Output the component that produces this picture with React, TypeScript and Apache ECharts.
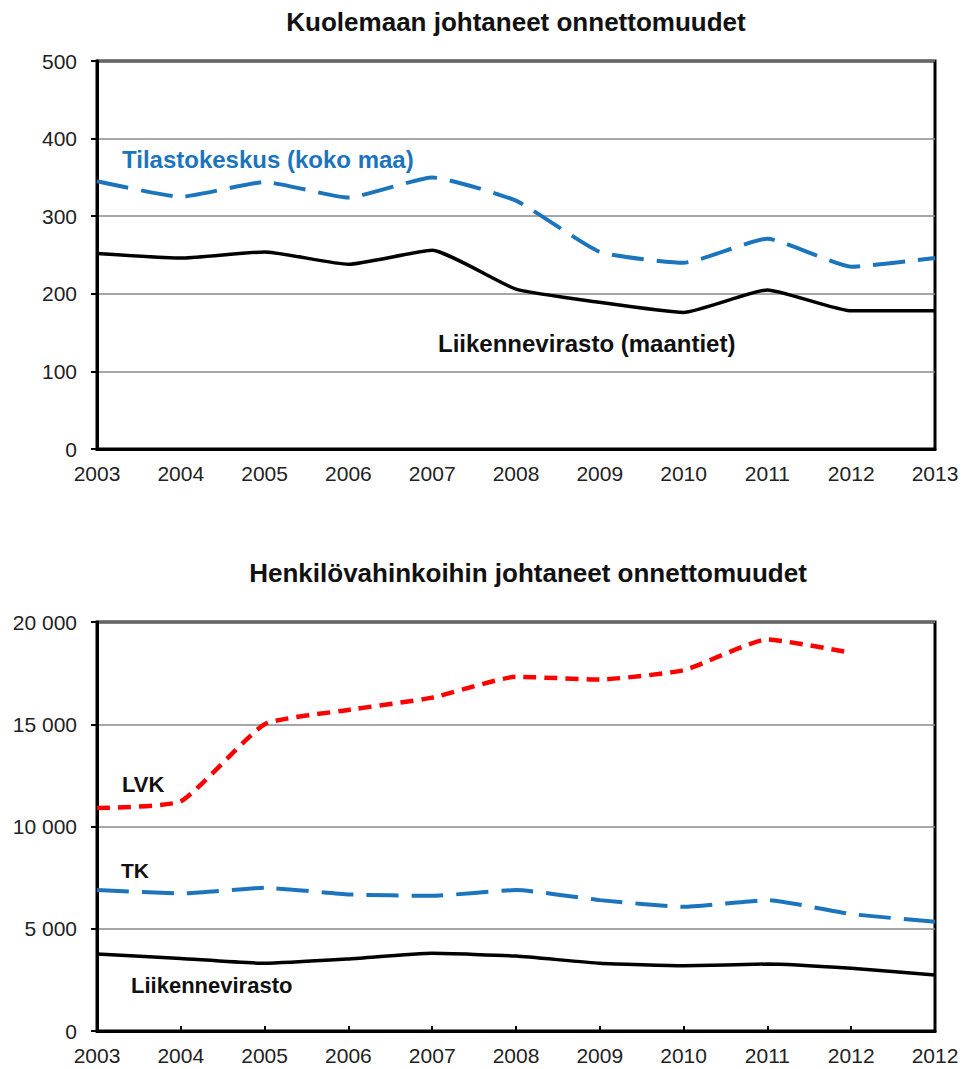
import React, { useEffect, useRef } from "react";
import * as echarts from "echarts";

// ---- Data ----
const years1 = ["2003", "2004", "2005", "2006", "2007", "2008", "2009", "2010", "2011", "2012", "2013"];
const tilastokeskus1 = [345, 325, 344, 324, 350, 320, 254, 240, 271, 235, 246];
const liikennevirasto1 = [252, 246, 254, 238, 256, 206, 189, 176, 205, 178, 178];

const years2 = ["2003", "2004", "2005", "2006", "2007", "2008", "2009", "2010", "2011", "2012", "2012"];
const lvk2 = [10900, 11230, 15000, 15700, 16300, 17320, 17190, 17640, 19150, 18490, null];
const tk2 = [6890, 6730, 7000, 6680, 6610, 6890, 6400, 6075, 6400, 5720, 5340];
const liikennevirasto2 = [3760, 3550, 3310, 3520, 3800, 3665, 3310, 3190, 3275, 3065, 2740];

const title1 = "Kuolemaan johtaneet onnettomuudet";
const title2 = "Henkilövahinkoihin johtaneet onnettomuudet";

const FONT = "'Liberation Sans', Arial, Helvetica, sans-serif";
const BLUE = "#1c75bc";
const RED = "#ff0000";

function fmtThousands(v: number) {
  return String(v).replace(/\B(?=(\d{3})+(?!\d))/g, " ");
}

function text(x: number, y: number, t: string, size: number, color: string, align: string) {
  return {
    type: "text",
    x,
    y,
    silent: true,
    style: {
      text: t,
      fill: color,
      fontSize: size,
      fontWeight: "bold",
      fontFamily: FONT,
      align,
      textAlign: align,
      verticalAlign: "middle",
      textVerticalAlign: "middle",
    },
  };
}

export default function App() {
  const ref = useRef<HTMLDivElement>(null);
  useEffect(() => {
    document.body.style.margin = "0";
    const chart = echarts.init(ref.current!, null, { renderer: "svg" });
    const xAxisBase = (gridIndex: number, data: string[], ticks: boolean) => ({
      gridIndex,
      type: "category",
      data,
      boundaryGap: false,
      axisLine: { show: true, lineStyle: { color: "#000", width: 3 } },
      axisTick: ticks
        ? { show: true, inside: true, length: 5, interval: 0, lineStyle: { color: "#000", width: 2 } }
        : { show: false },
      axisLabel: { interval: 0, fontSize: 21, color: "#222", margin: 14, fontFamily: FONT },
      splitLine: { show: false },
    });
    const yAxisBase = (gridIndex: number, max: number, interval: number, fmt?: (v: number) => string) => ({
      gridIndex,
      type: "value",
      min: 0,
      max,
      interval,
      axisLine: { show: true, lineStyle: { color: "#000", width: 3 } },
      axisTick: { show: true, length: 6, lineStyle: { color: "#000", width: 2 } },
      axisLabel: { fontSize: 21, color: "#222", margin: 20, fontFamily: FONT, formatter: fmt },
      splitLine: { show: true, lineStyle: { color: "#888", width: 1.5 } },
    });
    const option: any = {
      animation: false,
      backgroundColor: "#fff",
      grid: [
        { left: 97, top: 61, width: 838, height: 388, show: true, borderColor: "#000", borderWidth: 3 },
        { left: 97, top: 622, width: 838, height: 409, show: true, borderColor: "#000", borderWidth: 3 },
      ],
      xAxis: [xAxisBase(0, years1, false), xAxisBase(1, years2, true)],
      yAxis: [
        yAxisBase(0, 500, 100),
        yAxisBase(1, 20000, 5000, (v: number) => fmtThousands(v)),
      ],
      series: [
        {
          name: "Tilastokeskus (koko maa)",
          type: "line",
          xAxisIndex: 0,
          yAxisIndex: 0,
          data: tilastokeskus1,
          symbol: "none",
          smooth: 0.15,
          lineStyle: { color: BLUE, width: 4, type: [32, 13], cap: "butt" },
        },
        {
          name: "Liikennevirasto (maantiet)",
          type: "line",
          xAxisIndex: 0,
          yAxisIndex: 0,
          data: liikennevirasto1,
          symbol: "none",
          smooth: 0.15,
          lineStyle: { color: "#000", width: 3.5 },
        },
        {
          name: "LVK",
          type: "line",
          xAxisIndex: 1,
          yAxisIndex: 1,
          data: lvk2,
          symbol: "none",
          smooth: 0.15,
          lineStyle: { color: RED, width: 4.5, type: [13, 8], cap: "butt" },
        },
        {
          name: "TK",
          type: "line",
          xAxisIndex: 1,
          yAxisIndex: 1,
          data: tk2,
          symbol: "none",
          smooth: 0.15,
          lineStyle: { color: BLUE, width: 4, type: [32, 13], cap: "butt" },
        },
        {
          name: "Liikennevirasto",
          type: "line",
          xAxisIndex: 1,
          yAxisIndex: 1,
          data: liikennevirasto2,
          symbol: "none",
          smooth: 0.15,
          lineStyle: { color: "#000", width: 3.5 },
        },
      ],
      graphic: [
        text(516, 22, title1, 26, "#111", "center"),
        text(528, 573, title2, 26, "#111", "center"),
        text(122, 159, "Tilastokeskus (koko maa)", 24, BLUE, "left"),
        text(438, 343, "Liikennevirasto (maantiet)", 24, "#111", "left"),
        text(122, 784, "LVK", 22, "#111", "left"),
        text(121, 870, "TK", 21, "#111", "left"),
        text(131, 985, "Liikennevirasto", 22, "#111", "left"),
      ],
    };
    chart.setOption(option);
    return () => chart.dispose();
  }, []);
  return <div ref={ref} style={{ width: 964, height: 1069 }} />;
}
